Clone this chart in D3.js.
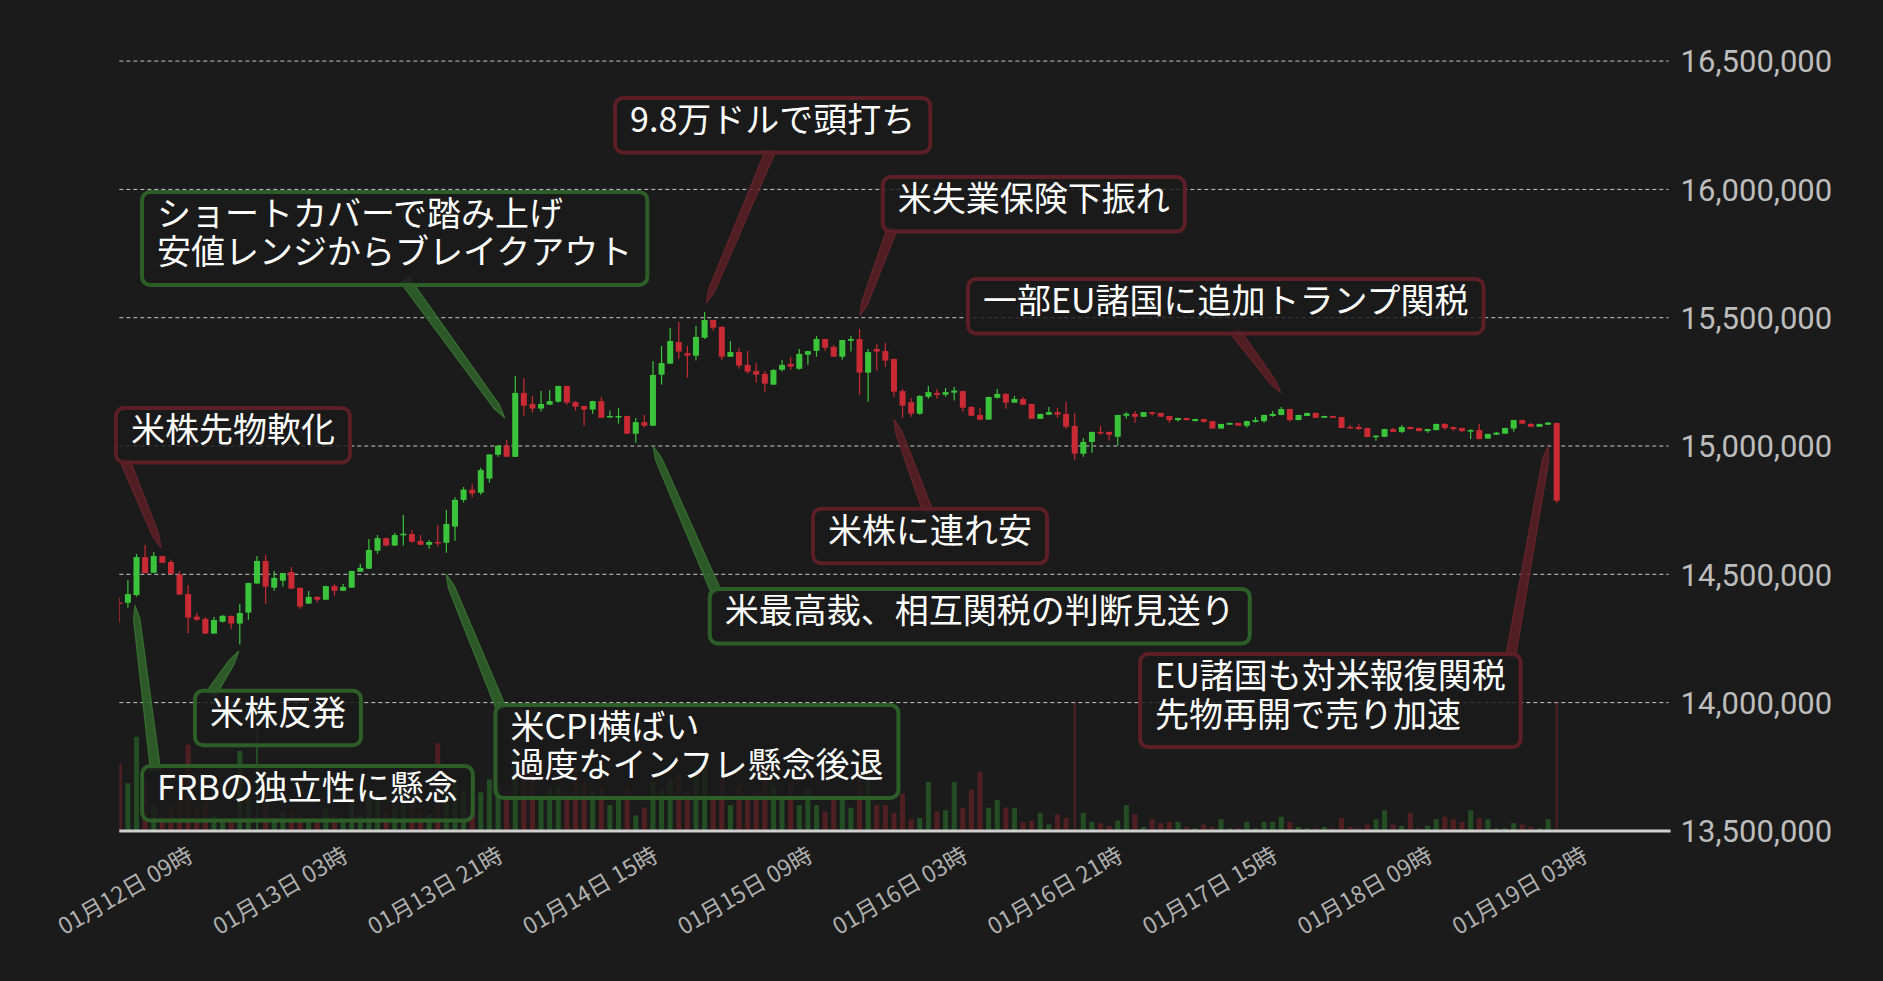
<!DOCTYPE html>
<html><head><meta charset="utf-8">
<script src="https://cdn.jsdelivr.net/npm/d3@7"></script>
<style>html,body{margin:0;padding:0;background:#1b1b1b;}svg{display:block}</style>
</head><body><svg id="chart" width="1883" height="981"></svg>
<script>
// ---------- DATA (prices in thousand JPY, hourly candles) ----------
const startTime = "2026-01-12T00:00:00";
const axisEndTime = "2026-01-19T12:00:00";
const UNIT = 1000;
const openP = [14390,14389,14419,14567,14506,14571,14548,14499,14423,14335,14326,14269,14315,14338,14308,14351,14464,14552,14448,14475,
14509,14447,14386,14412,14401,14454,14436,14448,14510,14522,14592,14641,14612,14652,14657,14630,14615,14626,14623,14686,
14790,14830,14818,14873,14966,15001,14958,15207,15164,15146,15161,15173,15234,15171,15156,15142,15175,15112,15114,15117,
15048,15093,15079,15278,15321,15405,15362,15352,15422,15491,15464,15348,15366,15316,15292,15281,15239,15297,15320,15301,
15356,15371,15417,15386,15348,15410,15417,15286,15378,15370,15339,15214,15171,15126,15192,15207,15200,15208,15214,15152,
15121,15103,15188,15203,15169,15183,15164,15106,15122,15132,15125,15078,14970,15016,15055,15055,15036,15118,15125,15114,
15132,15129,15117,15101,15109,15097,15105,15097,15068,15083,15090,15079,15094,15097,15117,15121,15144,15101,15117,15129,
15110,15117,15113,15074,15074,15070,15036,15036,15066,15055,15074,15070,15058,15062,15086,15074,15070,15060,15062,15029,
15044,15048,15068,15101,15086,15075,15083,15090];
const highP = [14410,14478,14579,14614,14587,14572,14558,14513,14458,14349,14334,14334,14341,14339,14384,14467,14571,14575,14513,14506,
14528,14450,14435,14413,14455,14462,14462,14514,14540,14638,14653,14642,14661,14731,14673,14653,14634,14692,14751,14800,
14840,14850,14915,14968,15002,15023,15273,15265,15195,15214,15218,15235,15235,15175,15157,15176,15191,15138,15148,15118,
15109,15121,15331,15390,15460,15483,15390,15468,15522,15492,15468,15409,15382,15370,15323,15292,15300,15335,15347,15378,
15371,15429,15418,15394,15414,15429,15456,15378,15397,15401,15340,15222,15187,15199,15234,15222,15226,15230,15215,15156,
15148,15192,15222,15207,15195,15191,15165,15126,15152,15148,15171,15129,15031,15056,15078,15056,15122,15132,15136,15133,
15133,15130,15118,15110,15110,15106,15106,15098,15087,15091,15091,15098,15113,15122,15136,15152,15145,15122,15130,15130,
15118,15118,15114,15082,15086,15071,15043,15067,15070,15082,15075,15071,15067,15087,15090,15075,15071,15066,15086,15048,
15055,15071,15102,15102,15090,15087,15094,15091];
const lowP = [14312,14370,14413,14505,14506,14544,14500,14420,14269,14319,14268,14268,14312,14288,14226,14323,14463,14386,14436,14452,
14443,14366,14385,14390,14400,14417,14435,14447,14509,14521,14580,14608,14611,14612,14623,14614,14600,14608,14584,14631,
14780,14800,14810,14857,14958,14957,14957,15118,15130,15134,15160,15169,15161,15138,15079,15126,15109,15111,15087,15047,
15013,15071,15078,15239,15320,15340,15266,15333,15417,15449,15336,15347,15301,15282,15247,15212,15238,15290,15297,15297,
15317,15348,15371,15347,15336,15368,15199,15173,15294,15309,15192,15110,15114,15122,15184,15184,15192,15177,15134,15117,
15099,15102,15184,15145,15168,15160,15105,15105,15121,15110,15067,14945,14958,14974,15043,15021,15001,15107,15091,15113,
15118,15113,15091,15095,15099,15096,15091,15067,15067,15082,15078,15071,15091,15091,15114,15120,15095,15100,15116,15109,
15109,15109,15069,15070,15062,15034,15020,15035,15054,15051,15065,15057,15051,15061,15062,15058,15055,15027,15026,15028,
15043,15047,15056,15086,15074,15074,15082,14778];
const closeP = [14388,14423,14567,14505,14571,14545,14501,14421,14331,14323,14269,14322,14338,14308,14349,14466,14552,14452,14486,14505,
14444,14374,14412,14401,14454,14436,14451,14513,14525,14595,14641,14612,14653,14658,14627,14615,14626,14623,14696,14790,
14830,14815,14906,14967,15001,14958,15207,15157,15146,15164,15175,15234,15169,15153,15142,15175,15110,15117,15117,15048,
15093,15079,15277,15323,15409,15368,15352,15425,15491,15461,15348,15366,15313,15290,15278,15243,15296,15316,15309,15359,
15370,15417,15383,15348,15413,15417,15286,15366,15368,15333,15212,15157,15126,15195,15210,15199,15210,15216,15149,15118,
15103,15191,15203,15169,15183,15161,15106,15125,15132,15122,15075,14970,15016,15055,15051,15044,15121,15126,15114,15132,
15125,15114,15101,15109,15101,15105,15094,15068,15086,15090,15079,15097,15101,15121,15125,15144,15101,15121,15129,15110,
15117,15110,15070,15073,15066,15035,15040,15066,15055,15074,15066,15058,15066,15086,15070,15066,15058,15062,15027,15047,
15052,15070,15101,15087,15075,15086,15091,14787];
const volume = [520,370,730,400,200,120,200,270,670,180,230,120,80,80,620,270,1250,300,100,150,
150,130,80,70,180,120,90,250,120,300,280,150,200,350,220,150,130,680,420,380,
300,250,300,400,350,300,620,550,450,280,320,350,300,500,380,300,350,200,250,350,
120,180,380,330,400,450,300,480,560,300,420,200,350,250,300,580,350,250,380,200,
330,200,150,270,250,180,470,500,200,200,140,290,90,100,380,150,160,380,180,320,
460,180,240,180,180,70,80,140,50,130,100,1300,140,70,60,40,80,200,130,30,
90,60,70,70,30,20,50,30,90,20,20,70,20,70,70,110,70,30,20,20,
30,20,100,30,20,50,90,160,50,40,140,20,40,90,110,90,70,160,100,90,
20,20,60,50,30,20,90,1330];
const yTicks = [13500000,14000000,14500000,15000000,15500000,16000000,16500000];
const xTickLabels = ["01月12日 09時","01月13日 03時","01月13日 21時","01月14日 15時","01月15日 09時","01月16日 03時","01月16日 21時","01月17日 15時","01月18日 09時","01月19日 03時"];

// annotations: text lines, tone, box top-left [hour offset, price], pointer base & tip
const annTexts = [["米株先物軟化"],["FRBの独立性に懸念"],["米株反発"],["ショートカバーで踏み上げ","安値レンジからブレイクアウト"],["9.8万ドルで頭打ち"],["米失業保険下振れ"],["一部EU諸国に追加トランプ関税"],["米株に連れ安"],["米最高裁、相互関税の判断見送り"],["米CPI横ばい","過度なインフレ懸念後退"],["EU諸国も対米報復関税","先物再開で売り加速"]];
const annTone = ["down","up","up","up","down","down","down","down","up","up","down"];
const annBox = [[-0.39,15148000],[2.65,13753000],[8.79,14046000],[2.64,15990000],[57.6,16356000],[88.7,16048000],[98.6,15651000],[80.6,14755000],[68.6,14443000],[43.7,13991000],[118.6,14189000]];
const annBase = [[0.78,14934000],[4.15,13753000],[10.89,14046000],[33.43,15635000],[75.5,16138000],[89.66,15834000],[129.86,15436000],[93.84,14754000],[69.2,14443000],[44.2,13991000],[161.7,14189000]];
const annTip = [[4.85,14602000],[1.82,14380000],[13.9,14201000],[44.8,15109000],[68.2,15557000],[86.05,15507000],[134.97,15207000],[90.0,15105000],[62.0,15000000],[37.96,14501000],[166.0,15000000]];

// ---------- CHART ----------
const svg = d3.select("#chart");
svg.append("rect").attr("width",1883).attr("height",981).attr("fill","#1b1b1b");
const plot = {left:119.3, right:1668.6, top:61.1, bottom:830.9};
const parseT = d3.timeParse("%Y-%m-%dT%H:%M:%S");
const t0 = parseT(startTime), t1 = parseT(axisEndTime);
const times = openP.map((_,i)=>d3.timeHour.offset(t0,i));
const x = d3.scaleTime().domain([t0,t1]).range([plot.left,plot.right]);
const y = d3.scaleLinear().domain([13500000,16500000]).range([plot.bottom,plot.top]);
const volMax = 1000;
const vy = d3.scaleLinear().domain([0,volMax]).range([plot.bottom,702]).clamp(true);
const hx = h => x(t0) + (x(d3.timeHour.offset(t0,1))-x(t0))*h;

const UP="#3bc43b", DOWN="#c92a33";

// grid
svg.append("g").selectAll("line").data(yTicks.filter(v=>v>13500000)).join("line")
  .attr("x1",plot.left).attr("x2",plot.right)
  .attr("y1",d=>y(d)).attr("y2",d=>y(d))
  .attr("stroke","#c8c8c8").attr("stroke-width",1).attr("stroke-dasharray","4,3");

// y labels
const yAxis = d3.axisRight(y).tickValues(yTicks).tickSize(0).tickPadding(0).tickFormat(d3.format(","));
const yg = svg.append("g").attr("transform",`translate(${plot.right+12},0)`).call(yAxis);
yg.select(".domain").remove();
yg.selectAll("text").attr("fill","#bdbdbd").attr("font-family","Roboto, 'Noto Sans', sans-serif").attr("font-size",31).attr("dy","0.35em");

const clip = svg.append("clipPath").attr("id","pc").append("rect")
  .attr("x",plot.left).attr("y",plot.top-5).attr("width",plot.right-plot.left).attr("height",plot.bottom-plot.top+5);
const g = svg.append("g").attr("clip-path","url(#pc)");

// volume
const data = times.map((t,i)=>({t,o:openP[i]*UNIT,h:highP[i]*UNIT,l:lowP[i]*UNIT,c:closeP[i]*UNIT,v:volume[i]}));
g.append("g").selectAll("rect").data(data).join("rect")
  .attr("x",d=>x(d.t)-(d.v>volMax?1:2.5)).attr("width",d=>d.v>volMax?2:5)
  .attr("y",d=>vy(d.v)).attr("height",d=>plot.bottom-vy(d.v))
  .attr("fill",d=>d.c>=d.o?UP:DOWN).attr("opacity",0.3);

// candles
const cg = g.append("g").selectAll("g").data(data).join("g");
cg.append("line").attr("x1",d=>x(d.t)).attr("x2",d=>x(d.t))
  .attr("y1",d=>y(d.h)).attr("y2",d=>y(d.l))
  .attr("stroke",d=>d.c>=d.o?UP:DOWN).attr("stroke-width",1.2);
cg.append("rect").attr("x",d=>x(d.t)-3).attr("width",6)
  .attr("y",d=>y(Math.max(d.o,d.c))).attr("height",d=>Math.max(1.5,Math.abs(y(d.o)-y(d.c))))
  .attr("fill",d=>d.c>=d.o?UP:DOWN);

// baseline
svg.append("line").attr("x1",plot.left).attr("x2",plot.right+2).attr("y1",plot.bottom).attr("y2",plot.bottom)
  .attr("stroke","#d0d0d0").attr("stroke-width",3);

// x labels
const parseLab = d3.timeParse("%Y年%m月%d日 %H時");
svg.append("g").selectAll("text").data(xTickLabels).join("text")
  .attr("transform",d=>`translate(${x(parseLab("2026年"+d))-2},860) rotate(-30)`)
  .attr("text-anchor","end").attr("fill","#b0b0b0")
  .attr("font-family","'Noto Sans CJK JP', sans-serif").attr("font-size",23).text(d=>d);

// annotations
const tone = {up:{stroke:"#2d5e28",fill:"#2f6429",edge:"#3b7a33"}, down:{stroke:"#5c1f25",fill:"#5a1e24",edge:"#6e262d"}};
const ag = svg.append("g");
annTexts.forEach((lines,i)=>{
  const c = tone[annTone[i]];
  const bx = hx(annBox[i][0]), by = y(annBox[i][1]);
  const b = [hx(annBase[i][0]), y(annBase[i][1])];
  const t = [hx(annTip[i][0]), y(annTip[i][1])];
  const dx=t[0]-b[0], dy=t[1]-b[1], L=Math.hypot(dx,dy);
  const ux=dx/L, uy=dy/L, nx=-uy, ny=ux;
  const w0=5, w1=3.2, k=14;
  const m=[t[0]-ux*k, t[1]-uy*k];
  const pts=[[b[0]+nx*w0-ux*4,b[1]+ny*w0-uy*4],[m[0]+nx*w1,m[1]+ny*w1],t,[m[0]-nx*w1,m[1]-ny*w1],[b[0]-nx*w0-ux*4,b[1]-ny*w0-uy*4]];
  ag.append("path").attr("d",d3.line()(pts)+"Z").attr("fill",c.fill).attr("fill-opacity",0.85)
    .attr("stroke",c.edge).attr("stroke-width",1.2).attr("stroke-opacity",0.8);
  const grp = ag.append("g");
  const rect = grp.append("rect");
  const txt = grp.append("text").attr("font-family","'Noto Sans CJK JP', sans-serif").attr("font-size",34).attr("fill","#ffffff");
  const padX=15, lh=38.5, padY=8;
  lines.forEach((s,j)=>txt.append("tspan").attr("x",bx+padX).attr("y",by+34+j*lh).text(s));
  let maxW=0; txt.selectAll("tspan").each(function(){maxW=Math.max(maxW,this.getComputedTextLength());});
  rect.attr("x",bx).attr("y",by).attr("width",maxW+2*padX).attr("height",lines.length*lh+2*padY)
    .attr("rx",8).attr("fill","#1b1b1b").attr("fill-opacity",0.82).attr("stroke",c.stroke).attr("stroke-width",4);
});
</script></body></html>
